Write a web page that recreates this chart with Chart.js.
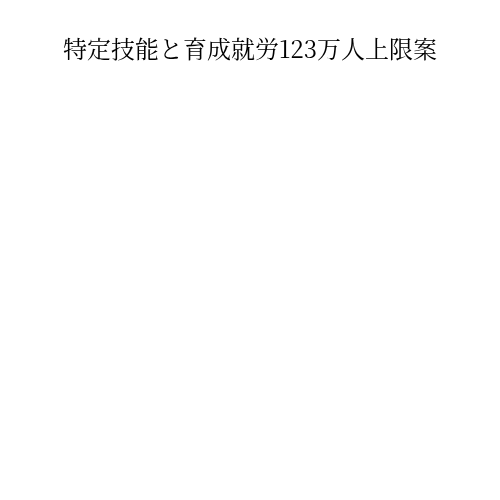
<!DOCTYPE html>
<html>
<head>
<meta charset="utf-8">
<script src="https://cdn.jsdelivr.net/npm/chart.js@4"></script>
<style>
  html, body { margin: 0; padding: 0; background: #fff; }
  #wrap { width: 500px; height: 500px; }
</style>
</head>
<body>
<div id="wrap"><canvas id="myChart" width="500" height="500"></canvas></div>
<script>
'use strict'

// the reference shows only the title, no marks are drawn
let titleText = '特定技能と育成就労123万人上限案'
let categories = []
let seriesValues = []

let ctx = document.getElementById('myChart')
const myChart = new Chart(ctx, {
    type: 'bar',
    data: {
        labels: categories,
        datasets: [{
            label: '',
            data: seriesValues,
            backgroundColor: '#4e79a7'
        }]
    },
    options: {
        responsive: false,
        animation: false,
        plugins: {
            legend: { display: false },
            tooltip: { enabled: false },
            title: {
                display: true,
                text: titleText,
                color: '#000',
                font: {
                    family: '"Noto Serif CJK JP", "Noto Sans CJK JP", serif',
                    size: 24,
                    weight: 'normal'
                },
                padding: { top: 34, bottom: 10 }
            }
        },
        scales: {
            x: { display: false },
            y: { display: false }
        }
    }
});
</script>
</body>
</html>
